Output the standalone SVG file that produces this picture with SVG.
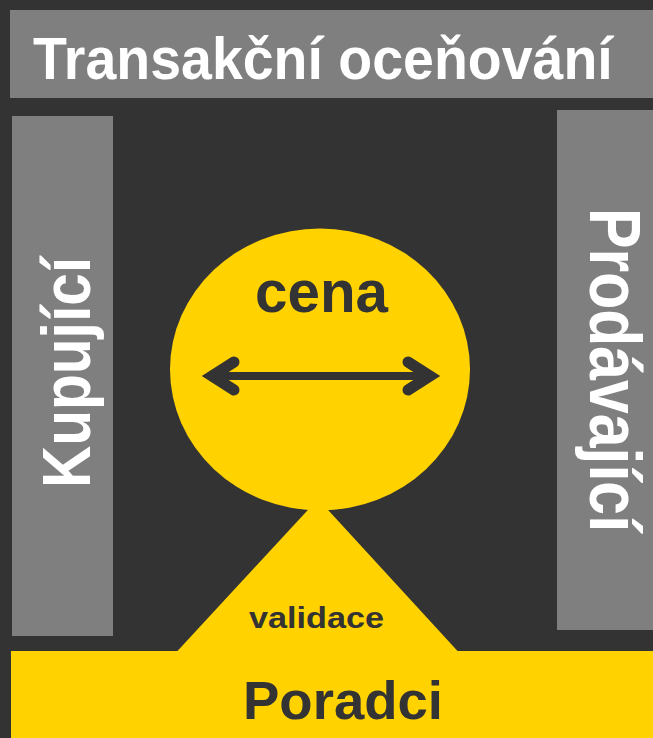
<svg xmlns="http://www.w3.org/2000/svg" width="653" height="738" viewBox="0 0 653 738">
  <style>
    .box { fill: #7f7f7f; }
    .yel { fill: #FFD200; }
    .wt { fill: #ffffff; font-family: "Liberation Sans", Arial, sans-serif; font-weight: bold; }
    .dk { fill: #333333; font-family: "Liberation Sans", Arial, sans-serif; font-weight: bold; }
    .arr { fill: none; stroke: #333333; }
  </style>
  <rect x="0" y="0" width="653" height="738" fill="#333333"/>

  <g id="banner">
    <rect class="box" x="10" y="10" width="643" height="88"/>
    <text class="wt" transform="translate(33,79) scale(0.925,1)" x="0" y="0" font-size="60">Transakční oceňování</text>
  </g>

  <g id="buyer">
    <rect class="box" x="12" y="116" width="101" height="520"/>
    <text class="wt" transform="translate(90,488) rotate(-90)" x="0" y="0" font-size="68" textLength="231" lengthAdjust="spacingAndGlyphs">Kupující</text>
  </g>

  <g id="seller">
    <rect class="box" x="557" y="110" width="96" height="520"/>
    <text class="wt" transform="translate(590,208) rotate(90)" x="0" y="0" font-size="72" textLength="324" lengthAdjust="spacingAndGlyphs">Prodávající</text>
  </g>

  <g id="advisors">
    <rect class="yel" x="11" y="651" width="642" height="87"/>
    <text class="dk" x="243" y="719" font-size="54" textLength="200" lengthAdjust="spacingAndGlyphs">Poradci</text>
  </g>

  <g id="validation">
    <polygon class="yel" points="177,651.5 318,499 458,651.5"/>
    <text class="dk" x="249" y="628" font-size="29" textLength="135" lengthAdjust="spacingAndGlyphs">validace</text>
  </g>

  <g id="price">
    <ellipse class="yel" cx="320" cy="369.5" rx="150" ry="141"/>
    <text class="dk" x="255" y="312" font-size="59" textLength="133" lengthAdjust="spacingAndGlyphs">cena</text>
  </g>

  <g id="connectors">
    <line class="arr" x1="214" y1="376" x2="428" y2="376" stroke-width="8"/>
    <polyline class="arr" points="234,362 212,376 234,390" stroke-width="11" stroke-linecap="round" stroke-linejoin="miter"/>
    <polyline class="arr" points="408,362 430,376 408,390" stroke-width="11" stroke-linecap="round" stroke-linejoin="miter"/>
  </g>
</svg>
